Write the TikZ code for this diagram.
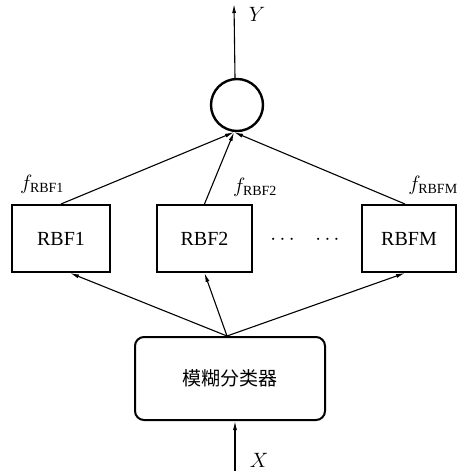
\documentclass[tikz,border=0pt]{standalone}
\usepackage{fontspec}
\setmainfont{Liberation Serif}
\newfontfamily\cjk{Noto Sans CJK SC}
\usetikzlibrary{arrows.meta}
\begin{document}
\begin{tikzpicture}[
  x=1pt, y=-1pt,
  every node/.style={font=\fontsize{20}{24}\selectfont},
  seta/.style={-{Latex[length=9pt,width=4pt]}, line width=1.1pt}
]
\tikzset{
  caixa/.style={draw, line width=2pt, minimum height=67pt, inner sep=0pt},
  classif/.style={draw, line width=2pt, rounded corners=9pt, minimum width=190pt, minimum height=83pt},
  soma/.style={draw, circle, line width=2.4pt, minimum size=52pt, inner sep=0pt}
}
\useasboundingbox (0,0) rectangle (464,471);
\node[soma] (soma) at (237,105) {};
\node[caixa, minimum width=98pt] (rbf1) at (61,238.5) {RBF1};
\node[caixa, minimum width=95pt] (rbf2) at (204.5,238.5) {RBF2};
\node[caixa, minimum width=94pt] (rbfm) at (409,238.5) {RBFM};
\node (pontos) at (305,240) {$\cdots\;\;\;\cdots$};
\node[classif] (cls) at (230,378.5) {\cjk\fontsize{19}{22}\selectfont 模糊分类器};
\node (f1) at (42,184) {$f_{\mathrm{RBF1}}$};
\node (f2) at (255,187) {$f_{\mathrm{RBF2}}$};
\node (fm) at (433,185) {$f_{\mathrm{RBFM}}$};
\coordinate (saida) at (234,4);
\coordinate (entrada) at (235,471);
\node (y) at (257,14) {$Y$};
\node (x) at (259,460) {$X$};
% entrada -> classificador -> RBFs
\draw[seta] (entrada) -- (cls.south -| entrada);
\draw[seta] ([xshift=-3pt]cls.north) -- ([xshift=9pt]rbf1.south);
\draw[seta] ([xshift=-3pt]cls.north) -- (rbf2.south);
\draw[seta] ([xshift=-3pt]cls.north) -- ([xshift=-4pt]rbfm.south);
% RBFs -> soma -> saida
\draw[seta] (rbf1.north) -- ([xshift=-3pt]soma.south);
\draw[seta] (rbf2.north) -- ([xshift=-3pt]soma.south);
\draw[seta] ([xshift=-4pt]rbfm.north) -- ([xshift=-3pt]soma.south);
\draw[seta] ([xshift=-2pt]soma.north) -- (saida);
\end{tikzpicture}
\end{document}
